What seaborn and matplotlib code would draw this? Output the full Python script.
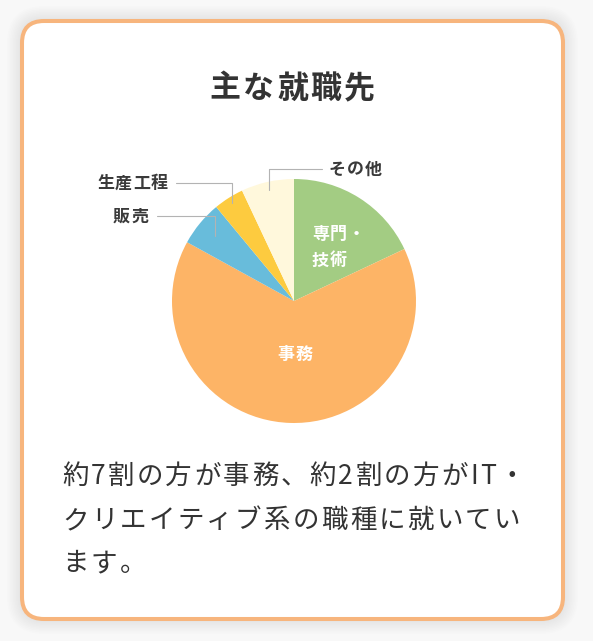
import matplotlib
matplotlib.use("Agg")
import numpy as np
import matplotlib.pyplot as plt
import seaborn as sns
from matplotlib.patches import FancyBboxPatch
from matplotlib.font_manager import FontProperties

# ---- data ----
categories = ["専門・\n技術", "事務", "販売", "生産工程", "その他"]
shares = [18, 65, 6, 4, 7]
colors = ["#A3CC83", "#FDB466", "#68BCDB", "#FDCB3F", "#FFF8DC"]
title = "主な就職先"
caption_lines = ["約7割の方が事務、約2割の方がIT・",
                 "クリエイティブ系の職種に就いてい",
                 "ます。"]

sns.set_theme(style="white")
FAM = ['Noto Sans CJK JP', 'DejaVu Sans']
plt.rcParams['font.family'] = FAM

W, H = 593, 641
fig = plt.figure(figsize=(W / 100, H / 100), dpi=100)
fig.patch.set_facecolor('#f8f8f8')
ax = fig.add_axes([0, 0, 1, 1])
cx, cy = 294, 301  # pie centre in pixels
renderer = fig.canvas.get_renderer()


def P(px, py):
    return px - cx, cy - py


def spaced_text(px, py_center, s, size_px, spacing_px, ha='left', weight='normal',
                color='#333333', zorder=5):
    """Draw text with CSS-like letter spacing; py_center is the glyph centre line."""
    fp = FontProperties(family=FAM, size=size_px * 0.72, weight=weight)
    widths = [renderer.get_text_width_height_descent(ch, fp, ismath=False)[0] for ch in s]
    total = sum(widths) + spacing_px * (len(s) - 1)
    if ha == 'center':
        x = px - total / 2
    elif ha == 'right':
        x = px - total
    else:
        x = px
    base_py = py_center + 0.38 * size_px
    for ch, w in zip(s, widths):
        tx, ty = P(x, base_py)
        ax.text(tx, ty, ch, ha='left', va='baseline', fontproperties=fp,
                color=color, zorder=zorder)
        x += w + spacing_px
    return total


# card shadow
for i in range(10, 0, -1):
    x0, y0 = P(22 - i * 1.5, 619 + i * 1.5)
    sh = FancyBboxPatch((x0, y0), 541 + i * 3, 598 + i * 3,
                        boxstyle="round,pad=0,rounding_size=%f" % (22 + i * 1.5),
                        fc='black', ec='none', alpha=0.006, zorder=0)
    ax.add_patch(sh)
# card
x0, y0 = P(22, 619)
card = FancyBboxPatch((x0, y0), 541, 598, boxstyle="round,pad=0,rounding_size=22",
                      fc='white', ec='#F7B57D', lw=2.9, zorder=1)
ax.add_patch(card)

# pie
R = 122
wedges, _ = ax.pie(shares, colors=colors, startangle=90, counterclock=False,
                   radius=R, center=(0, 0), wedgeprops=dict(linewidth=0), frame=True)
for w in wedges:
    w.set_zorder(3)

ax.set_xlim(-cx, W - cx)
ax.set_ylim(cy - H, cy)
ax.set_aspect('auto')
ax.axis('off')


def mid_xy(w, frac):
    a = np.deg2rad((w.theta1 + w.theta2) / 2)
    return frac * R * np.cos(a), frac * R * np.sin(a)


LBL = 17   # label font size in px
LSP = 1    # label letter spacing
# inside labels (white)
lines0 = categories[0].split("\n")
for k, ln in enumerate(lines0):
    spaced_text(312, 233 + k * 26, ln, LBL, LSP, ha='left', weight='bold', color='white')
spaced_text(295, 353, categories[1], LBL, LSP, ha='center', weight='bold', color='white')

# outside labels with elbow leader lines
line_c = '#b3b3b3'
txt_c = '#3a3a3a'
# その他
x, y = mid_xy(wedges[4], 0.93)
_, ye = P(0, 169)
xe, _ = P(322, 0)
ax.plot([x, x, xe], [y, ye, ye], color=line_c, lw=0.8, zorder=4)
spaced_text(329, 168, categories[4], LBL, LSP, ha='left', weight='bold', color=txt_c)
# 生産工程
x, y = mid_xy(wedges[3], 0.95)
_, ye = P(0, 183)
xe, _ = P(176, 0)
ax.plot([x, x, xe], [y, ye, ye], color=line_c, lw=0.8, zorder=4)
spaced_text(168, 182, categories[3], LBL, LSP, ha='right', weight='bold', color=txt_c)
# 販売
x, y = mid_xy(wedges[2], 0.84)
_, ye = P(0, 216)
xe, _ = P(157, 0)
ax.plot([x, x, xe], [y, ye, ye], color=line_c, lw=0.8, zorder=4)
spaced_text(148, 215, categories[2], LBL, LSP, ha='right', weight='bold', color=txt_c)

# title
spaced_text(292.5, 86, title, 31, 2.6, ha='center', weight='bold', color='#333333')

# caption
for line, py in zip(caption_lines, [474, 518, 561]):
    spaced_text(62, py, line, 26.5, 2.3, ha='left', color='#333333')

fig.savefig('out.png', dpi=100, facecolor=fig.get_facecolor())
